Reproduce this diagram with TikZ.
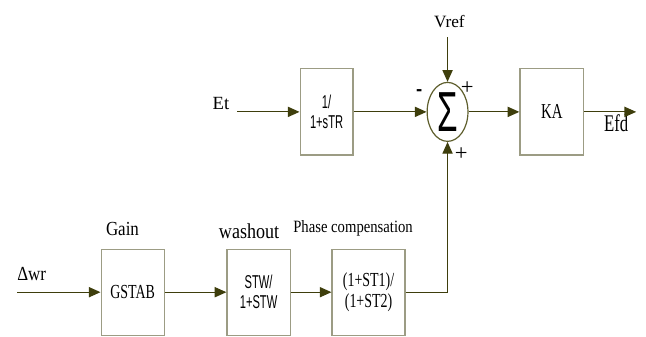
\documentclass[tikz,border=0pt]{standalone}
\usepackage{fontspec}
\usepackage{graphicx}
\setmainfont{Liberation Serif}
\setsansfont{Liberation Sans}
\newfontfamily\labfont[FakeStretch=0.85]{Liberation Serif}
\newfontfamily\boxfont[FakeStretch=0.7]{Liberation Serif}
\newfontfamily\sboxfont[FakeStretch=0.6]{Liberation Sans}
\usetikzlibrary{arrows.meta,positioning,shapes.geometric,calc}
\definecolor{olive}{HTML}{3E3E0C}
\definecolor{boxedge}{HTML}{9C9C84}
\definecolor{ringedge}{HTML}{5E5E2C}

\begin{document}
\begin{tikzpicture}[>={Triangle[length=3.1mm,width=2.7mm]},
  block/.style={draw=boxedge, line width=0.9pt, minimum height=2.28cm, align=center, inner sep=2pt,
                font=\boxfont\fontsize{15}{16}\selectfont},
  sblock/.style={block, font=\sboxfont\fontsize{14}{15}\selectfont},
  flow/.style={->, line width=0.9pt, draw=olive},
  lab/.style={font=\labfont\fontsize{15}{17}\selectfont, inner sep=0pt},
  sign/.style={font=\fontsize{17}{17}\selectfont, inner sep=0pt}]
\useasboundingbox (0,0) rectangle (17.09,8.89);

% ---------------- exciter row
\node[sblock, minimum width=1.40cm] (tr) at (8.64,5.93) {1/\\1+sTR};
\node[draw=ringedge, line width=0.9pt, ellipse, minimum width=1.08cm, minimum height=1.56cm, inner sep=0pt]
  (sum) at (11.84,5.93) {\sffamily\scalebox{1}[1.7]{\fontsize{25}{25}\selectfont Σ}};
\node[block, minimum width=1.69cm, font=\boxfont\fontsize{16}{17}\selectfont] (ka) at (14.60,5.93) {KA};
\coordinate (etin) at (6.27,5.93);
\coordinate (vrefin) at (11.84,7.91);
\coordinate (efdout) at (16.83,5.93);
\node[lab, anchor=base east, font=\fontsize{14}{16}\selectfont] (et) at ($(etin)+(-0.2,0.05)$) {Et};
\node[lab, anchor=base, font=\fontsize{13}{15}\selectfont] (vref) at ($(vrefin)+(0.05,0.24)$) {Vref};
\node[lab, anchor=base, font=\boxfont\fontsize{18}{20}\selectfont] (efd) at (16.30,5.40) {Efd};
\draw[flow] (etin) -- (tr);
\draw[flow] (tr) -- (sum);
\draw[flow] (vrefin) -- (sum);
\draw[flow] (sum) -- (ka);
\draw[flow] (ka) -- (efdout);
\node[sign, font=\sffamily\bfseries\fontsize{14}{14}\selectfont] (minus) at (11.09,6.43) {-};
\node[sign] (plustop) at (12.36,6.56) {+};
\node[sign] (plusbot) at (12.20,4.82) {+};

% ---------------- stabilizer row
\node[block, minimum width=1.67cm] (gstab) at (3.51,1.16) {GSTAB};
\node[sblock, minimum width=1.67cm] (wash) at (6.84,1.16) {STW/\\1+STW};
\node[block, minimum width=1.93cm] (phase) at (9.75,1.16) {(1+ST1)/\\(1+ST2)};
\coordinate (wrin) at (0.45,1.16);
\node[lab, anchor=base west] (wr) at ($(wrin)+(0,0.32)$) {Δwr};
\node[lab, anchor=base] (gain) at (3.24,2.67) {Gain};
\node[lab, anchor=base, font=\labfont\fontsize{16}{18}\selectfont] (washlab) at (6.59,2.59) {washout};
\node[lab, anchor=base, font=\labfont\fontsize{13}{15}\selectfont] (phaselab) at (9.34,2.73) {Phase compensation};
\draw[flow] (wrin) -- (gstab);
\draw[flow] (gstab) -- (wash);
\draw[flow] (wash) -- (phase);
\draw[flow] (phase.east) -| (sum.south);
\end{tikzpicture}
\end{document}
